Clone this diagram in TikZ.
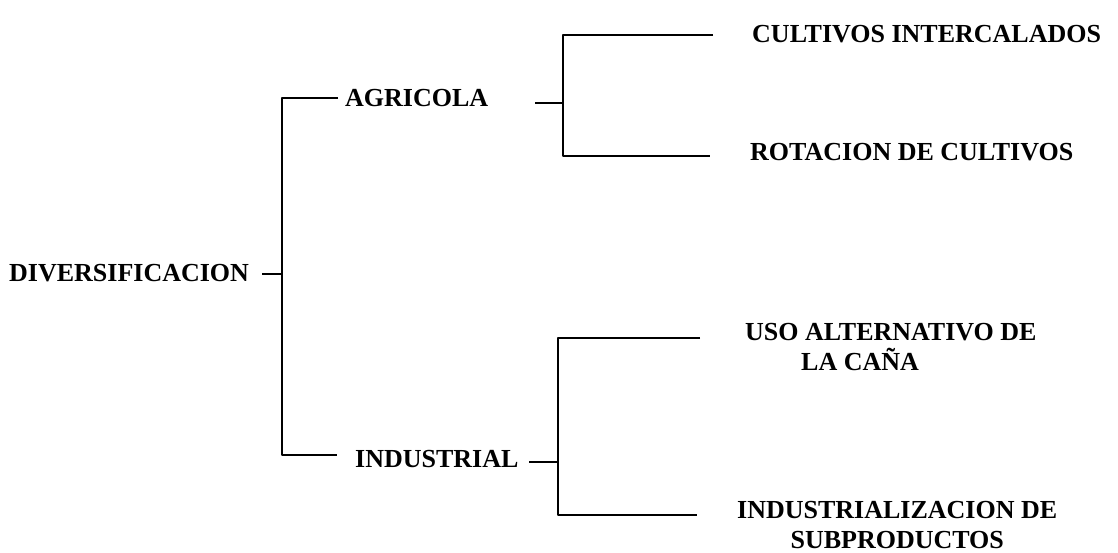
\documentclass[tikz,border=0pt]{standalone}
\usepackage{fontspec}
\setmainfont{Liberation Serif}
\begin{document}
\begin{tikzpicture}[x=1pt,y=-1pt,
  label/.style={font=\bfseries\fontsize{26}{30}\selectfont, inner sep=0pt, anchor=west},
  conn/.style={line width=2.6pt, line join=round, black}]
\useasboundingbox (0,0) rectangle (1118,552);
\fill[white] (0,0) rectangle (1118,552);

% labels
\node[label] (div) at (9,273) {DIVERSIFICACION};
\node[label] (agr) at (345,98) {AGRICOLA};
\node[label] (ind) at (355,459) {INDUSTRIAL};
\node[label] (cul) at (752,34) {CULTIVOS INTERCALADOS};
\node[label] (rot) at (750,152) {ROTACION DE CULTIVOS};
\node[label, align=left] (uso) at (745,347) {USO ALTERNATIVO DE\\\hspace*{56pt}LA CAÑA};
\node[label, align=center] (isp) at (737,525) {INDUSTRIALIZACION DE\\SUBPRODUCTOS};

% junctions on the bracket spines
\coordinate (jD) at (282,274);
\coordinate (jA) at (563,103);
\coordinate (jI) at (558,462);

% free ends of the stubs
\coordinate (dS) at (262,274);
\coordinate (aS) at (535,103);
\coordinate (iS) at (529,462);
\coordinate (aT) at (338,98);
\coordinate (iT) at (337,455);
\coordinate (cT) at (713,35);
\coordinate (rT) at (710,156);
\coordinate (uT) at (700,338);
\coordinate (sT) at (697,515);

% first level bracket
\draw[conn] (dS) -- (jD);
\draw[conn] (aT) -| (jD) |- (iT);

% agricultural branch
\draw[conn] (aS) -- (jA);
\draw[conn] (cT) -| (jA) |- (rT);

% industrial branch
\draw[conn] (iS) -- (jI);
\draw[conn] (uT) -| (jI) |- (sT);
\end{tikzpicture}
\end{document}
